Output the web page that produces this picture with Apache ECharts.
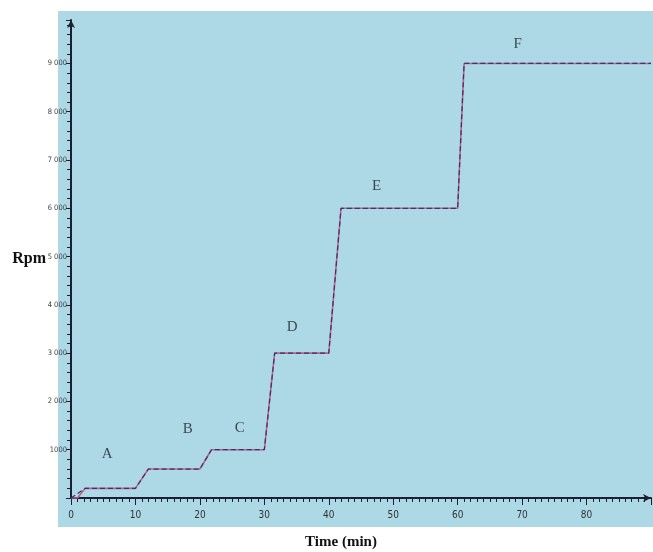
<!DOCTYPE html>
<html>
<head>
<meta charset="utf-8">
<script src="https://cdn.jsdelivr.net/npm/echarts@6/dist/echarts.min.js"></script>
<style>
  html, body { margin: 0; padding: 0; background: #fff; }
  #chart { width: 653px; height: 552px; }
</style>
</head>
<body>
<div id="chart"></div>
<script>
// measured speed (dark) and set point (pink), [time min, rpm]
const measured = [[0, 0], [2.2, 200], [10, 200], [12, 600], [20, 600], [21.8, 1000], [30, 1000], [31.6, 3000], [40, 3000], [41.9, 6000], [60, 6000], [61, 9000], [90, 9000]]
const setPoint = [[0, 0], [1, 0], [2.2, 200], [10, 200], [12, 600], [20, 600], [21.8, 1000], [30, 1000], [31.6, 3000], [40, 3000], [41.9, 6000], [60, 6000], [61, 9000], [90, 9000]]
// stage letters and where they sit
const stageNames = ['A', 'B', 'C', 'D', 'E', 'F']
const stageAt = [[5.6, 900], [18.1, 1420], [26.2, 1440], [34.3, 3540], [47.4, 6460], [69.3, 9400]]
const yTickLabels = { 1000: '1000', 2000: '2 000', 3000: '3 000', 4000: '4 000', 5000: '5 000', 6000: '6 000', 7000: '7 000', 8000: '8 000', 9000: '9 000' }
const xTickLabels = [0, 10, 20, 30, 40, 50, 60, 70, 80]

const chart = echarts.init(document.getElementById('chart'))
const axisColor = '#1c1f33'
const labelFont = "'Liberation Sans Narrow', 'DejaVu Sans Condensed', sans-serif"

const option = {
    backgroundColor: '#fff',
    animation: false,
    graphic: [
        {
            type: 'rect',
            z: -10,
            shape: { x: 58, y: 11, width: 595, height: 516 },
            style: { fill: '#add8e6' }
        }
    ],
    grid: { left: 71, right: 2, top: 20, bottom: 54, outerBoundsMode: 'none' },
    xAxis: {
        type: 'value',
        min: 0,
        max: 90,
        interval: 10,
        name: 'Time (min)',
        nameLocation: 'middle',
        nameGap: 37,
        nameTextStyle: {
            fontFamily: "'Liberation Serif', serif",
            fontWeight: 'bold',
            fontSize: 15,
            color: '#111',
            padding: [0, 40, 0, 0]
        },
        axisLine: { show: true, onZero: false, lineStyle: { color: axisColor, width: 2 }, symbol: ['none', 'arrow'], symbolSize: [6, 8] },
        axisTick: { show: true, inside: false, length: 7, lineStyle: { color: axisColor, width: 1 } },
        minorTick: { show: true, splitNumber: 10, length: 4, lineStyle: { color: axisColor, width: 1 } },
        splitLine: { show: false },
        axisLabel: {
            margin: 12,
            fontSize: 10,
            color: '#333',
            fontFamily: labelFont,
            formatter: v => xTickLabels.includes(v) ? String(v) : ''
        }
    },
    yAxis: {
        type: 'value',
        min: 0,
        max: 9900,
        interval: 1000,
        name: 'Rpm',
        nameLocation: 'middle',
        nameRotate: 0,
        nameGap: 25,
        nameMoveOverlap: false,
        nameTextStyle: {
            fontFamily: "'Liberation Serif', serif",
            fontWeight: 'bold',
            fontSize: 16,
            color: '#111'
        },
        axisLine: { show: true, lineStyle: { color: axisColor, width: 2 }, symbol: ['none', 'arrow'], symbolSize: [6, 8] },
        axisTick: { show: true, length: 5, lineStyle: { color: axisColor, width: 1 } },
        minorTick: { show: true, splitNumber: 5, length: 4, lineStyle: { color: axisColor, width: 1 } },
        splitLine: { show: false },
        axisLabel: {
            margin: 4,
            fontSize: 7.5,
            color: '#444',
            fontFamily: labelFont,
            formatter: v => yTickLabels[v] || ''
        }
    },
    series: [
        {
            name: 'set point',
            type: 'line',
            data: setPoint,
            symbol: 'none',
            lineStyle: { color: '#c0608a', width: 1.6 },
            z: 3
        },
        {
            name: 'measured',
            type: 'line',
            data: measured,
            symbol: 'none',
            lineStyle: { color: '#34346e', width: 1.2, type: [5, 3] },
            z: 4
        },
        {
            name: 'stages',
            type: 'scatter',
            symbol: 'circle',
            symbolSize: 1,
            itemStyle: { color: 'rgba(0,0,0,0)' },
            data: stageAt.map((p, i) => ({ value: p, name: stageNames[i] })),
            label: {
                show: true,
                position: 'inside',
                formatter: p => p.name,
                fontFamily: "'Liberation Serif', serif",
                fontSize: 15,
                color: '#1a2230'
            },
            z: 5
        }
    ]
}
chart.setOption(option)
</script>
</body>
</html>
